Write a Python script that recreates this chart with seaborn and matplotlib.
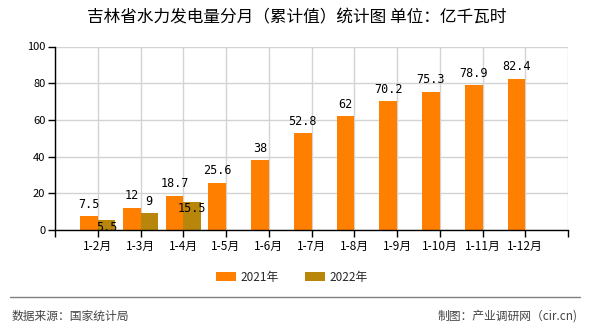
import matplotlib
matplotlib.use("Agg")
import matplotlib.pyplot as plt
from matplotlib.lines import Line2D
import seaborn as sns
import pandas as pd
import numpy as np

# ---- data ----
title = "吉林省水力发电量分月（累计值）统计图 单位：亿千瓦时"
categories = ["1-2月", "1-3月", "1-4月", "1-5月", "1-6月", "1-7月", "1-8月",
              "1-9月", "1-10月", "1-11月", "1-12月"]
series_names = ["2021年", "2022年"]
values_2021 = [7.5, 12, 18.7, 25.6, 38, 52.8, 62, 70.2, 75.3, 78.9, 82.4]
values_2022 = [5.5, 9, 15.5]
label_2021 = ["7.5", "12", "18.7", "25.6", "38", "52.8", "62", "70.2", "75.3", "78.9", "82.4"]
label_2022 = ["5.5", "9", "15.5"]
yticks = [0, 20, 40, 60, 80, 100]
source_text = "数据来源：国家统计局"
credit_text = "制图：产业调研网（cir.cn)"

# ---- style ----
colors = ["#FF8000", "#B8860B"]
off_2021 = [4] * len(values_2021)          # label offsets (points)
off_2022 = [-10, 4, -10]

sns.set_theme(style="white")
plt.rcParams['font.family'] = ['Noto Sans CJK SC', 'DejaVu Sans']

rows = []
for c, v in zip(categories, values_2021):
    rows.append({"cat": c, "year": series_names[0], "val": v})
for c, v in zip(categories, values_2022):
    rows.append({"cat": c, "year": series_names[1], "val": v})
df = pd.DataFrame(rows)

fig = plt.figure(figsize=(5.9, 3.3), dpi=100)
ax = fig.add_axes([55/590, 1-230/330, (568-55)/590, (230-46.5)/330])

sns.barplot(data=df, x="cat", y="val", hue="year", order=categories,
            hue_order=series_names, palette=colors, width=0.82,
            saturation=1, ax=ax, legend=True, edgecolor="none", linewidth=0)

ax.set_xlim(-1, 11)
ax.set_ylim(0, 100)
ax.set_yticks(yticks)
ax.set_yticklabels([str(t) for t in yticks], fontsize=8)
xt = list(range(-1, 12))
ax.set_xticks(xt)
ax.set_xticklabels([""] + categories + [""], fontsize=8.5)
ax.set_xlabel("")
ax.set_ylabel("")
ax.grid(True, color="#D3D3D3", linewidth=1)
ax.set_axisbelow(True)
for s in ["top", "right"]:
    ax.spines[s].set_visible(False)
for s in ["left", "bottom"]:
    ax.spines[s].set_color("black")
    ax.spines[s].set_linewidth(1)
ax.tick_params(axis="both", which="major", direction="out", length=5, width=1,
               color="black", pad=2, labelcolor="black")
ax.tick_params(axis="both", bottom=True, left=True)

# value labels
conts = ax.containers
for cont, labs, offs in zip(conts, [label_2021, label_2022], [off_2021, off_2022]):
    patches = [p for p in cont.patches if not np.isnan(p.get_height()) and p.get_height() > 0]
    for p, lab, off in zip(patches, labs, offs):
        x = p.get_x() + p.get_width() / 2
        ax.annotate(lab, (x, p.get_height()), xytext=(0, off), textcoords="offset points",
                    ha="center", va="bottom", fontsize=8.5, family="DejaVu Sans Mono",
                    color="black")

# legend
leg = ax.get_legend()
handles = leg.legend_handles
leg.remove()
fig.legend(handles, series_names, loc="center", bbox_to_anchor=(0.495, 1-277/330),
           ncol=2, frameon=False, fontsize=8.5, handlelength=1.7, handleheight=0.8,
           handletextpad=0.4, columnspacing=2.2)

fig.text(297/590, 1-18/330, title, ha="center", va="center", fontsize=12, color="black")
fig.add_artist(Line2D([10/590, 580/590], [1-297/330]*2, color="#808080", linewidth=1))
fig.text(12/590, 1-316/330, source_text, ha="left", va="center", fontsize=8.5, color="#444444")
fig.text(578/590, 1-316/330, credit_text, ha="right", va="center", fontsize=8.5, color="#444444")

fig.savefig("out.png", dpi=100, facecolor="white")
